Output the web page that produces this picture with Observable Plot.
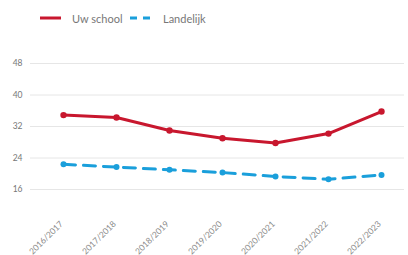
<!DOCTYPE html>
<html>
<head>
<meta charset="utf-8">
<script src="https://cdn.jsdelivr.net/npm/d3@7"></script>
<script src="https://cdn.jsdelivr.net/npm/@observablehq/plot@0.6"></script>
<style>
  body { margin: 0; background: #fff; font-family: Lato, "Open Sans", sans-serif; }
  #wrap { width: 408px; height: 255px; overflow: hidden; }
  #legend { height: 36px; position: relative; font-size: 11px; color: #777; }
  .item { position: absolute; top: 11px; display: flex; align-items: center; height: 14px; }
  .item svg { margin-right: 11px; }
</style>
</head>
<body>
<div id="wrap">
  <div id="legend">
    <div class="item" style="left:40px">
      <svg width="21" height="6"><line x1="0" x2="21" y1="3" y2="3" stroke="#c8172e" stroke-width="3"/></svg>
      <span>Uw school</span>
    </div>
    <div class="item" style="left:130px">
      <svg width="22" height="6"><line x1="0" x2="22" y1="3" y2="3" stroke="#1a9fdb" stroke-width="3" stroke-dasharray="7,6"/></svg>
      <span>Landelijk</span>
    </div>
  </div>
  <div id="chart"></div>
</div>
<script>
const years = ["2016/2017", "2017/2018", "2018/2019", "2019/2020", "2020/2021", "2021/2022", "2022/2023"];
const uwSchool = [34.9, 34.3, 31.0, 29.0, 27.8, 30.2, 35.8];
const landelijk = [22.4, 21.7, 21.0, 20.3, 19.3, 18.6, 19.7];
const yTicks = [16, 24, 32, 40, 48];

const school = years.map((y, i) => ({year: y, value: uwSchool[i]}));
const land = years.map((y, i) => ({year: y, value: landelijk[i]}));

const red = "#c8172e";
const blue = "#1a9fdb";

const chart = Plot.plot({
  width: 408,
  height: 219,
  marginLeft: 30,
  marginRight: 4,
  marginTop: 27,
  marginBottom: 66,
  style: {fontFamily: "Lato, 'Open Sans', sans-serif", background: "#fff"},
  x: {type: "point", domain: years, padding: 0, insetLeft: 31, insetRight: 21},
  y: {domain: [16, 48]},
  marks: [
    Plot.ruleY(yTicks, {stroke: "#e6e6e6", strokeWidth: 1}),
    Plot.axisY(yTicks, {tickSize: 0, tickPadding: 8, fontSize: 8.5, color: "#777", label: null}),
    Plot.axisX({tickSize: 0, tickPadding: 33, dx: -2, tickRotate: -45, fontSize: 8.5, color: "#888", label: null}),
    Plot.line(land, {x: "year", y: "value", stroke: blue, strokeWidth: 3, strokeDasharray: "12,8"}),
    Plot.dot(land, {x: "year", y: "value", fill: blue, r: 3}),
    Plot.line(school, {x: "year", y: "value", stroke: red, strokeWidth: 3}),
    Plot.dot(school, {x: "year", y: "value", fill: red, r: 3.2})
  ]
});
document.getElementById("chart").appendChild(chart);
</script>
</body>
</html>
